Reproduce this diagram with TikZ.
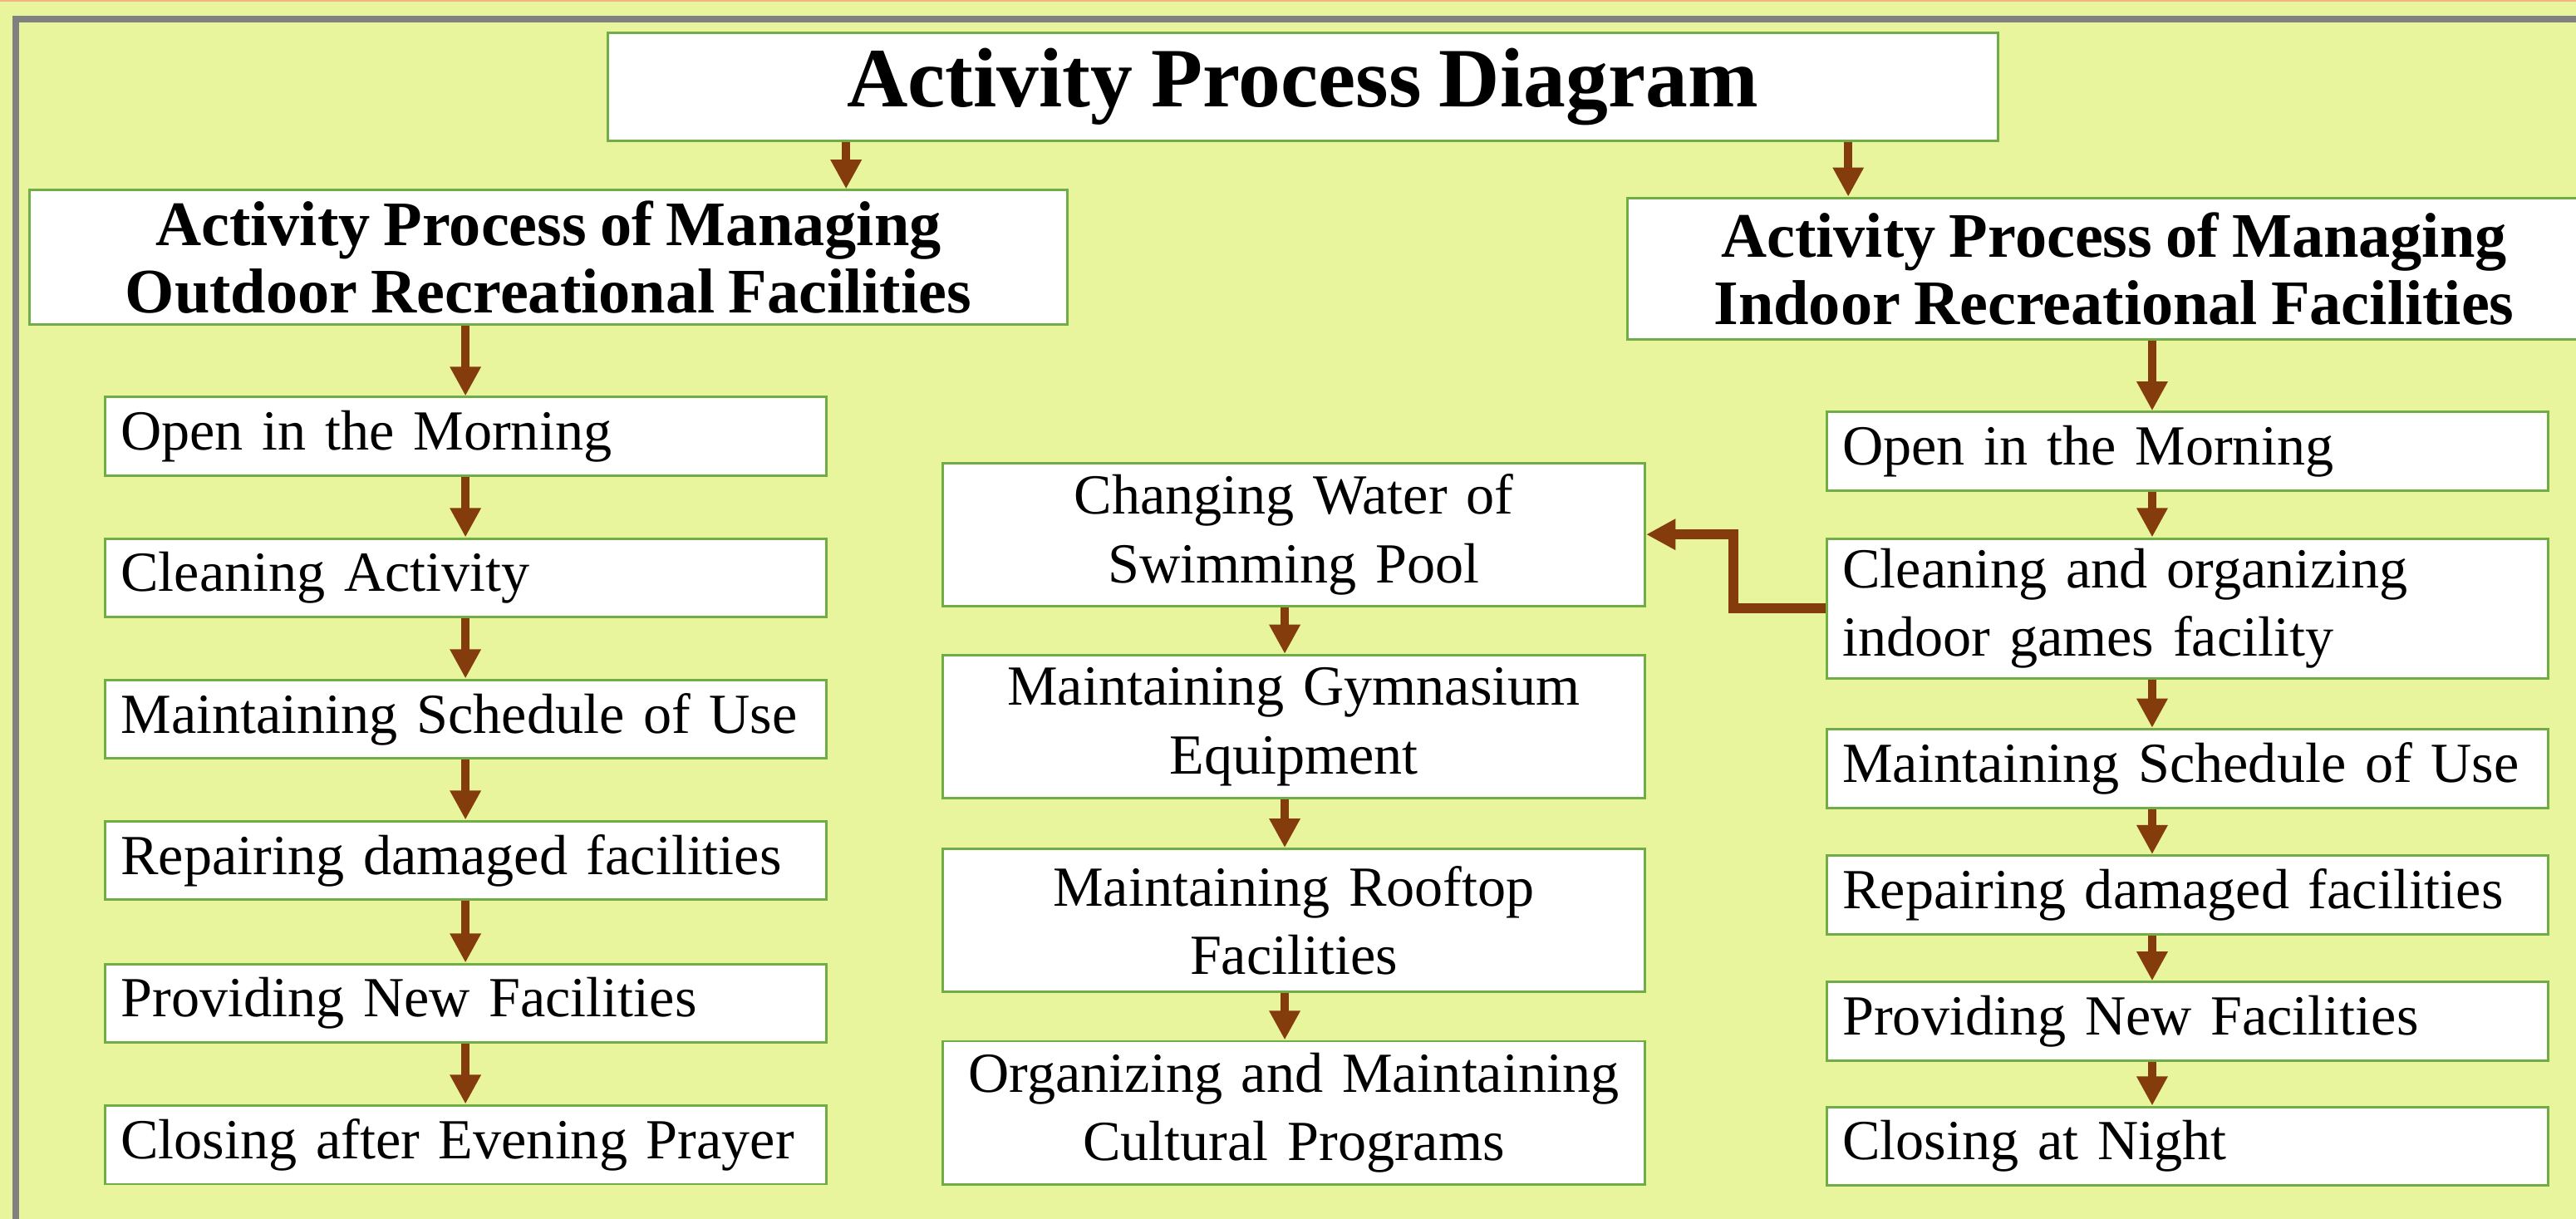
\documentclass[tikz,border=0pt]{standalone}
\usepackage{fontspec}
\setmainfont{Liberation Serif}[WordSpace=0.85]
\usetikzlibrary{arrows.meta}

\definecolor{bgyellow}{RGB}{233,245,156}
\definecolor{boxgreen}{RGB}{112,173,71}
\definecolor{flowbrown}{RGB}{132,60,12}
\definecolor{framegray}{RGB}{128,128,128}
\definecolor{peach}{RGB}{244,177,131}

\begin{document}
\begin{tikzpicture}[
        x=0.5625pt, y=-0.5625pt,
        box/.style={
            draw=boxgreen,
            line width=0.85pt,
            fill=white,
            inner xsep=5.5pt,
            inner ysep=0pt,
            anchor=north west,
            font=\fontsize{19.4}{23.5}\selectfont
        },
        sidebox/.style={box, text width=236pt, align=left, minimum height=27pt},
        midbox/.style={box, inner xsep=2pt, text width=236.5pt, align=center, minimum height=49pt},
        headbox/.style={box, align=center, font=\fontsize{21.7}{23.2}\selectfont\bfseries},
        flow/.style={
            draw=flowbrown,
            line width=2.9pt,
            -{Triangle[length=10pt, width=10pt]}
        }
    ]
        \useasboundingbox (0,0) rectangle (1568,742);
        \fill[bgyellow] (0,0) rectangle (1568,742);
        \fill[peach] (0,0) rectangle (1568,1.2);
        \draw[framegray, line width=2.25pt] (9.6,800) -- (9.6,11.6) -- (1600,11.6);

        % title and the two headers
        \node[headbox, minimum width=476pt, minimum height=37pt,
              font=\fontsize{28.9}{34}\selectfont\bfseries]
              (title) at (369,19.4) {Activity Process Diagram};
        \node[headbox, minimum width=355.5pt, minimum height=46pt]
              (outhead) at (17,115) {Activity Process of Managing\\Outdoor Recreational Facilities};
        \node[headbox, minimum width=333pt, minimum height=48.5pt]
              (inhead) at (990,119.7) {Activity Process of Managing\\Indoor Recreational Facilities};

        % outdoor column
        \node[sidebox] (out1) at (63,241) {Open in the Morning};
        \node[sidebox] (out2) at (63,327) {Cleaning Activity};
        \node[sidebox] (out3) at (63,413) {Maintaining Schedule of Use};
        \node[sidebox] (out4) at (63,499) {Repairing damaged facilities};
        \node[sidebox] (out5) at (63,586) {Providing New Facilities};
        \node[sidebox] (out6) at (63,672) {Closing after Evening Prayer};

        % middle column
        \node[midbox] (mid1) at (573,281) {Changing Water of\\Swimming Pool};
        \node[midbox] (mid2) at (573,398) {Maintaining Gymnasium\\Equipment};
        \node[midbox] (mid3) at (573,516) {Maintaining Rooftop\\Facilities};
        \node[midbox] (mid4) at (573,633) {Organizing and Maintaining\\Cultural Programs};

        % indoor column
        \node[sidebox] (in1) at (1111,250) {Open in the Morning};
        \node[sidebox, minimum height=48pt] (in2) at (1111,327) {Cleaning and organizing\\indoor games facility};
        \node[sidebox] (in3) at (1111,443) {Maintaining Schedule of Use};
        \node[sidebox] (in4) at (1111,520) {Repairing damaged facilities};
        \node[sidebox] (in5) at (1111,597) {Providing New Facilities};
        \node[sidebox] (in6) at (1111,673) {Closing at Night};

        \coordinate (tl) at (515,0);
        \coordinate (tr) at (1125,0);
        \coordinate (mx) at (782,0);
        \coordinate (ix) at (1310,0);

        \draw[flow] (title.south -| tl) -- (outhead.north -| tl);
        \draw[flow] (title.south -| tr) -- (inhead.north -| tr);

        \draw[flow] (outhead.south -| out1.north) -- (out1.north);
        \draw[flow] (out1.south) -- (out2.north);
        \draw[flow] (out2.south) -- (out3.north);
        \draw[flow] (out3.south) -- (out4.north);
        \draw[flow] (out4.south) -- (out5.north);
        \draw[flow] (out5.south) -- (out6.north);

        \draw[flow] (mid1.south -| mx) -- (mid2.north -| mx);
        \draw[flow] (mid2.south -| mx) -- (mid3.north -| mx);
        \draw[flow] (mid3.south -| mx) -- (mid4.north -| mx);

        \draw[flow] (inhead.south -| ix) -- (in1.north -| ix);
        \draw[flow] (in1.south -| ix) -- (in2.north -| ix);
        \draw[flow] (in2.south -| ix) -- (in3.north -| ix);
        \draw[flow] (in3.south -| ix) -- (in4.north -| ix);
        \draw[flow] (in4.south -| ix) -- (in5.north -| ix);
        \draw[flow] (in5.south -| ix) -- (in6.north -| ix);

        % branch to the pool
        \draw[flow, line width=3.4pt] (in2.west) -- ++(-56,0) |- (mid1.east);
    \end{tikzpicture}
\end{document}
